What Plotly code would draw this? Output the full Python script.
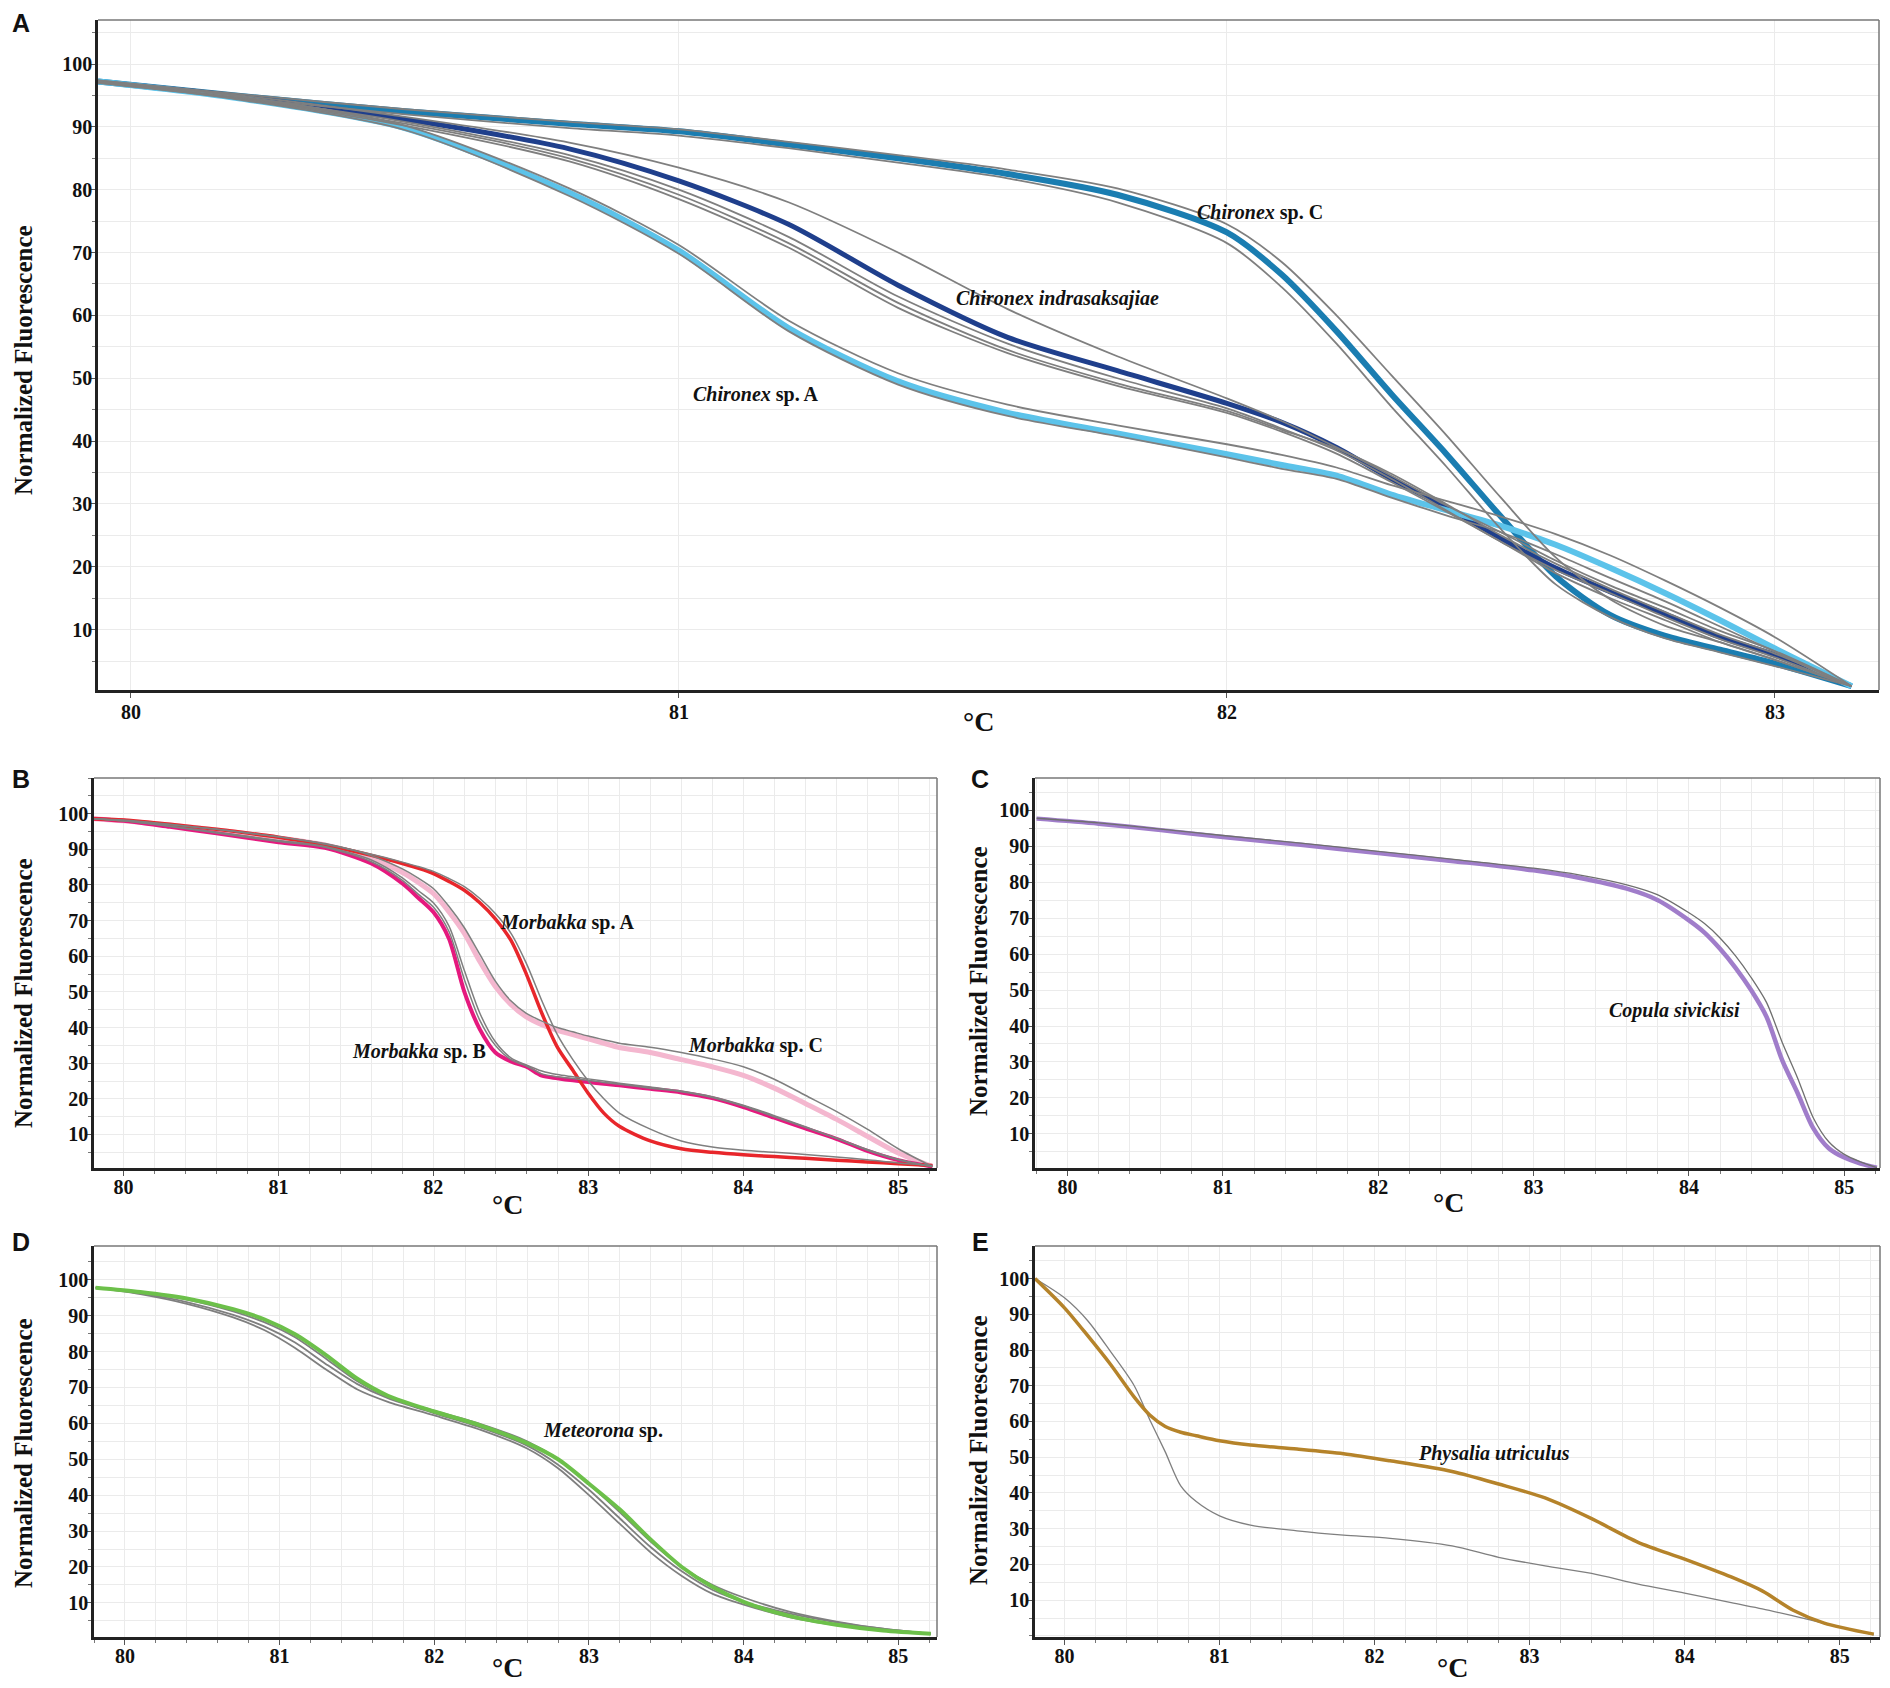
import plotly.graph_objects as go

# ---- panel A : Chironex ----
a_temp = [79.94, 80.2, 80.5, 80.8, 81.0, 81.2, 81.4, 81.6, 81.8, 82.0, 82.1,
          82.2, 82.3, 82.4, 82.5, 82.6, 82.7, 82.8, 82.9, 83.0, 83.14]
a_sp_c = [97.2, 94.9, 92.5, 90.5, 89.3, 87.2, 85.0, 82.5, 79.2, 73.2, 66.5,
          57.5, 47.5, 38.0, 28.0, 18.5, 12.3, 9.0, 6.8, 4.6, 1.0]
a_sp_c_rep1 = [97.4, 95.2, 92.8, 90.8, 89.6, 87.6, 85.5, 83.2, 80.2, 74.5, 68.5,
               60.0, 50.5, 41.0, 31.0, 21.5, 14.8, 10.6, 8.0, 5.2, 1.0]
a_sp_c_rep2 = [97.0, 94.6, 92.0, 89.8, 88.6, 86.6, 84.3, 81.8, 78.0, 71.5, 64.5,
               55.5, 45.5, 36.0, 26.0, 17.2, 12.0, 8.6, 6.4, 4.2, 1.0]
a_indra = [97.2, 94.8, 91.2, 86.5, 81.4, 74.5, 64.8, 56.5, 51.2, 46.0, 43.0,
           39.0, 34.0, 29.5, 24.5, 19.8, 16.0, 12.5, 8.8, 6.0, 1.0]
a_indra_rep1 = [97.2, 95.0, 91.6, 87.5, 83.5, 78.0, 70.0, 61.0, 53.5, 46.8, 43.2,
                39.0, 34.5, 29.8, 25.5, 21.0, 17.0, 13.5, 9.8, 6.6, 1.0]
a_indra_rep2 = [97.2, 94.6, 90.8, 85.5, 80.0, 72.5, 63.0, 55.5, 50.0, 45.2, 42.0,
                38.5, 34.0, 29.0, 24.0, 19.5, 15.8, 12.0, 8.5, 5.6, 1.0]
a_indra_rep3 = [97.2, 94.5, 90.5, 85.0, 79.2, 71.5, 62.0, 54.5, 49.2, 44.8, 41.8,
                38.8, 34.8, 30.0, 25.0, 20.5, 16.5, 12.8, 9.2, 6.2, 1.0]
a_indra_rep4 = [97.0, 94.4, 90.2, 84.5, 78.5, 70.8, 61.2, 54.0, 48.8, 44.5, 41.5,
                38.0, 33.5, 28.8, 24.0, 19.0, 15.0, 11.5, 8.0, 5.2, 1.0]
a_sp_a = [97.2, 94.5, 89.8, 79.5, 70.3, 58.0, 49.5, 44.5, 41.2, 37.9, 36.2,
          34.5, 31.5, 29.0, 26.5, 23.5, 19.8, 15.8, 11.5, 7.0, 1.0]
a_sp_a_rep1 = [97.4, 94.8, 90.2, 80.2, 71.2, 59.2, 50.8, 45.8, 42.5, 39.5, 37.8,
               35.8, 33.0, 30.5, 28.0, 25.2, 21.8, 17.8, 13.5, 8.8, 1.0]
a_sp_a_rep2 = [97.2, 94.3, 89.5, 79.0, 69.8, 57.5, 49.0, 44.0, 40.8, 37.4, 35.6,
               34.0, 31.0, 28.2, 25.5, 22.0, 18.2, 14.5, 10.5, 6.5, 1.0]

# ---- panel B : Morbakka ----
b_temp = [79.81, 80.0, 80.3, 80.6, 81.0, 81.3, 81.6, 81.8, 81.9, 82.0, 82.1,
          82.2, 82.3, 82.4, 82.5, 82.6, 82.7, 82.8, 82.9, 83.0, 83.1, 83.2,
          83.4, 83.6, 83.8, 84.0, 84.2, 84.4, 84.6, 84.8, 85.0, 85.22]
b_sp_a = [98.6, 98.2, 97.0, 95.6, 93.4, 91.2, 88.3, 86.0, 84.7, 83.2, 81.0,
          78.5, 75.0, 70.5, 64.5, 55.0, 44.0, 34.5, 28.0, 21.5, 16.0, 12.3,
          8.2, 6.0, 5.0, 4.3, 3.8, 3.3, 2.8, 2.3, 1.8, 1.3]
b_sp_a_rep = [98.6, 98.2, 97.0, 95.6, 93.5, 91.4, 88.6, 86.4, 85.2, 83.8, 81.8,
              79.5, 76.2, 72.0, 66.5, 58.0, 47.5, 38.0, 31.0, 25.0, 20.0, 16.0,
              11.5, 8.2, 6.5, 5.6, 5.0, 4.4, 3.7, 2.9, 2.0, 1.3]
b_sp_b = [98.6, 98.0, 96.3, 94.5, 92.0, 90.4, 86.0, 80.4, 76.5, 72.4, 65.0,
          50.0, 39.5, 33.0, 30.5, 29.0, 26.5, 25.8, 25.2, 24.7, 24.2, 23.8,
          22.8, 21.8, 20.2, 17.7, 14.7, 11.7, 8.8, 5.4, 2.8, 1.0]
b_sp_b_rep1 = [98.6, 98.0, 96.5, 94.8, 92.5, 90.8, 87.0, 82.0, 78.5, 75.0, 68.5,
               56.0, 44.0, 36.0, 31.5, 29.5, 27.8, 26.8, 26.2, 25.6, 25.0, 24.4,
               23.3, 22.2, 20.6, 18.2, 15.3, 12.2, 9.0, 5.8, 3.0, 1.0]
b_sp_b_rep2 = [98.6, 98.0, 96.4, 94.6, 92.2, 90.6, 86.5, 81.3, 77.5, 73.8, 67.0,
               53.5, 42.0, 35.0, 31.0, 29.2, 27.0, 26.2, 25.7, 25.2, 24.6, 24.1,
               23.0, 22.0, 20.4, 18.0, 15.0, 12.0, 8.9, 5.6, 2.9, 1.0]
b_sp_c = [98.6, 98.0, 96.8, 95.4, 93.2, 91.2, 87.5, 83.5, 80.8, 77.6, 72.5,
          66.4, 58.5, 51.5, 46.5, 43.0, 40.8, 39.2, 38.0, 36.8, 35.6, 34.4,
          33.0, 31.0, 29.0, 26.6, 23.0, 18.7, 14.3, 9.5, 4.8, 1.0]
b_sp_c_rep = [98.6, 98.0, 96.9, 95.6, 93.5, 91.6, 88.2, 84.5, 82.0, 79.0, 74.0,
              68.0, 60.5, 53.0, 47.5, 44.0, 41.8, 40.0, 38.8, 37.6, 36.6, 35.6,
              34.5, 33.0, 31.2, 29.0, 25.5, 21.0, 16.5, 11.5, 6.0, 1.0]

# ---- panel C : Copula ----
c_temp = [79.8, 80.2, 80.6, 81.0, 81.5, 82.0, 82.5, 83.0, 83.3, 83.6, 83.8, 84.0,
          84.1, 84.2, 84.3, 84.4, 84.5, 84.6, 84.7, 84.8, 84.9, 85.0, 85.1, 85.21]
c_copula = [97.7, 96.3, 94.5, 92.6, 90.4, 88.1, 85.8, 83.3, 81.2, 78.2, 75.0, 69.4,
            66.0, 61.5, 56.2, 50.0, 42.5, 30.5, 21.3, 11.6, 6.0, 3.4, 1.8, 0.6]
c_copula_rep = [97.8, 96.5, 94.8, 93.0, 90.9, 88.6, 86.3, 83.9, 82.0, 79.3, 76.5, 71.5,
                68.5, 64.5, 59.5, 53.5, 46.5, 35.5, 25.5, 14.5, 7.8, 4.3, 2.3, 0.6]

# ---- panel D : Meteorona ----
d_temp = [79.81, 80.1, 80.4, 80.7, 80.9, 81.1, 81.3, 81.5, 81.7, 82.0, 82.3, 82.6,
          82.8, 83.0, 83.2, 83.4, 83.6, 83.8, 84.0, 84.3, 84.6, 84.9, 85.21]
d_meteorona = [97.8, 96.6, 94.8, 91.8, 89.0, 84.8, 79.0, 72.5, 67.7, 63.3, 59.4, 54.5,
               50.0, 43.2, 36.0, 27.6, 20.0, 14.4, 10.3, 6.3, 3.9, 2.3, 1.4]
d_rep1 = [97.8, 96.0, 93.3, 89.5, 86.0, 81.0, 75.0, 69.5, 66.0, 62.2, 58.2, 53.0,
          47.5, 40.0, 32.0, 24.0, 17.5, 12.5, 9.5, 6.0, 3.8, 2.3, 1.4]
d_rep2 = [97.8, 96.2, 93.8, 90.2, 87.0, 82.5, 76.5, 71.0, 67.0, 62.8, 58.8, 53.8,
          48.5, 41.5, 33.5, 25.5, 18.8, 13.6, 10.3, 7.0, 4.6, 2.8, 1.4]
d_rep3 = [97.8, 96.5, 94.5, 91.2, 88.2, 84.0, 78.0, 71.8, 67.4, 63.5, 59.8, 55.0,
          50.0, 43.0, 35.2, 27.0, 20.0, 15.0, 11.5, 7.5, 4.8, 2.8, 1.4]

# ---- panel E : Physalia ----
e_temp = [79.81, 80.0, 80.15, 80.3, 80.45, 80.55, 80.65, 80.75, 80.85, 81.0, 81.2,
          81.5, 81.8, 82.1, 82.5, 82.8, 83.1, 83.4, 83.7, 84.0, 84.3, 84.5, 84.7,
          84.9, 85.22]
e_physalia = [100, 91.8, 84.0, 75.8, 66.8, 61.8, 58.6, 57.0, 56.0, 54.6, 53.4,
              52.3, 51.0, 49.0, 46.0, 42.5, 38.6, 32.8, 26.2, 21.5, 16.5, 12.6, 7.2,
              3.6, 0.5]
e_rep = [100, 94.6, 88.2, 79.4, 70.0, 60.5, 51.5, 42.0, 37.6, 33.6, 31.0,
         29.4, 28.2, 27.3, 25.2, 22.0, 19.6, 17.5, 14.5, 12.0, 9.3, 7.6, 5.6,
         3.5, 0.3]

y_ticks = [10, 20, 30, 40, 50, 60, 70, 80, 90, 100]

GRAY = "#7f7f7f"
SERIF = "Liberation Serif"
GRID = "#ebebeb"

# the page body keeps its default 8px margin, so the figure sits 8px in
OFF = 8
W, H = 1890 - OFF, 1688 - OFF


def px(x):
    return (x - OFF) / W


def py(y):
    return 1 - (y - OFF) / H


fig = go.Figure()


def add_curve(ax, x, y, color, width):
    fig.add_trace(go.Scatter(x=x, y=y, mode="lines", xaxis="x" + ax, yaxis="y" + ax,
                             line=dict(color=color, width=width, shape="spline", smoothing=0.8),
                             showlegend=False, hoverinfo="skip"))


# panel A
add_curve("", a_temp, a_sp_c, "#1a7db1", 6)
add_curve("", a_temp, a_indra, "#1f3f8c", 5)
add_curve("", a_temp, a_sp_a, "#5cc3ea", 6)
for rep in [a_sp_c_rep1, a_sp_c_rep2, a_indra_rep1, a_indra_rep2, a_indra_rep3,
            a_indra_rep4, a_sp_a_rep1, a_sp_a_rep2]:
    add_curve("", a_temp, rep, GRAY, 1.8)

# panel B
add_curve("2", b_temp, b_sp_c, "#f4b7cf", 5)
add_curve("2", b_temp, b_sp_b, "#e5197e", 4)
add_curve("2", b_temp, b_sp_a, "#e8262b", 3.5)
for rep in [b_sp_a_rep, b_sp_b_rep1, b_sp_b_rep2, b_sp_c_rep]:
    add_curve("2", b_temp, rep, GRAY, 1.5)

# panel C
add_curve("3", c_temp, c_copula, "#a07dca", 4.5)
add_curve("3", c_temp, c_copula_rep, "#6f6f6f", 1.3)

# panel D
for rep in [d_rep1, d_rep2, d_rep3]:
    add_curve("4", d_temp, rep, GRAY, 1.8)
add_curve("4", d_temp, d_meteorona, "#6cc04a", 4)

# panel E
add_curve("5", e_temp, e_rep, GRAY, 1.3)
add_curve("5", e_temp, e_physalia, "#b5832a", 3.5)


def xaxis_style(domain, rng, minor_step, anchor, standoff):
    d = dict(domain=domain, range=rng, anchor=anchor, tickmode="linear", tick0=80, dtick=1,
             showgrid=True, gridcolor=GRID, gridwidth=1, zeroline=False,
             showline=True, linecolor="#222222", linewidth=3,
             ticks="outside", ticklen=5, tickcolor="#555555", ticklabelstandoff=standoff,
             tickfont=dict(family=SERIF, size=20, color="#111111", weight="bold"))
    if minor_step:
        d["minor"] = dict(tickmode="linear", tick0=80, dtick=minor_step, ticks="outside",
                          ticklen=3, tickcolor="#777777", showgrid=True, gridcolor=GRID)
    return d


def yaxis_style(domain, rng, anchor):
    return dict(domain=domain, range=rng, anchor=anchor, tickmode="array", tickvals=y_ticks,
                showgrid=True, gridcolor=GRID, gridwidth=1, zeroline=False,
                showline=True, linecolor="#222222", linewidth=2.5,
                ticks="outside", ticklen=4, tickcolor="#555555", ticklabelstandoff=-5,
                tickfont=dict(family=SERIF, size=20, color="#111111", weight="bold"),
                minor=dict(tickmode="linear", tick0=0, dtick=5, ticks="outside", ticklen=3,
                           tickcolor="#777777", showgrid=True, gridcolor=GRID))


left_col = [px(94), px(937)]
right_col = [px(1035), px(1880)]
mid_row = [py(1168), py(778)]
low_row = [py(1637), py(1246)]

fig.update_layout(
    width=W, height=H, autosize=False,
    margin=dict(l=0, r=0, t=0, b=0),
    plot_bgcolor="white", paper_bgcolor="white",
    xaxis=xaxis_style([px(98), px(1879)], [79.94, 83.19], None, "y", -3),
    yaxis=yaxis_style([py(690), py(20)], [0.4, 107], "x"),
    xaxis2=xaxis_style(left_col, [79.81, 85.25], 0.2, "y2", -6),
    yaxis2=yaxis_style(mid_row, [0.6, 110], "x2"),
    xaxis3=xaxis_style(right_col, [79.79, 85.23], 0.2, "y3", -6),
    yaxis3=yaxis_style(mid_row, [0.5, 109], "x3"),
    xaxis4=xaxis_style(left_col, [79.8, 85.25], 0.2, "y4", -6),
    yaxis4=yaxis_style(low_row, [0.5, 109.4], "x4"),
    xaxis5=xaxis_style(right_col, [79.81, 85.26], 0.2, "y5", -6),
    yaxis5=yaxis_style(low_row, [-0.3, 109.1], "x5"),
)

# gray top and right frame edges
for ax in ["", "2", "3", "4", "5"]:
    xr, yr = "x" + ax + " domain", "y" + ax + " domain"
    fig.add_shape(type="line", xref=xr, yref=yr, x0=0, x1=1, y0=1, y1=1,
                  line=dict(color="#777777", width=1.5))
    fig.add_shape(type="line", xref=xr, yref=yr, x0=1, x1=1, y0=0, y1=1,
                  line=dict(color="#777777", width=1.5))

# curve labels
labels = [
    ("x", "y", 82.06, 76.3, "<i>Chironex</i> sp. C"),
    ("x", "y", 81.69, 62.7, "<i>Chironex indrasaksajiae</i>"),
    ("x", "y", 81.14, 47.4, "<i>Chironex</i> sp. A"),
    ("x2", "y2", 82.86, 69.6, "<i>Morbakka</i> sp. A"),
    ("x2", "y2", 81.91, 33.4, "<i>Morbakka</i> sp. B"),
    ("x2", "y2", 84.08, 35.0, "<i>Morbakka</i> sp. C"),
    ("x3", "y3", 83.91, 44.4, "<i>Copula sivickisi</i>"),
    ("x4", "y4", 83.09, 58.0, "<i>Meteorona</i> sp."),
    ("x5", "y5", 82.77, 51.0, "<i>Physalia utriculus</i>"),
]
for xr, yr, x, y, text in labels:
    fig.add_annotation(xref=xr, yref=yr, x=x, y=y, text="<b>" + text + "</b>", showarrow=False,
                       xanchor="center", yanchor="middle",
                       font=dict(family=SERIF, size=20, color="#111111"))

# axis titles and panel letters
y_titles = [(23, 360), (23, 993), (978, 981), (23, 1453), (978, 1450)]
for x0, y0 in y_titles:
    fig.add_annotation(xref="paper", yref="paper", x=px(x0), y=py(y0),
                       xanchor="center", yanchor="middle",
                       text="<b>Normalized Fluorescence</b>", textangle=-90, showarrow=False,
                       font=dict(family=SERIF, size=25, color="#111111"))

x_titles = [(978, 721), (507, 1204), (1448, 1202), (507, 1667), (1452, 1667)]
for x0, y0 in x_titles:
    fig.add_annotation(xref="paper", yref="paper", x=px(x0), y=py(y0),
                       xanchor="center", yanchor="middle",
                       text="<b>°C</b>", showarrow=False,
                       font=dict(family=SERIF, size=28, color="#111111"))

letters = [("A", 21, 23), ("B", 21, 779), ("C", 980, 779), ("D", 21, 1242), ("E", 980, 1242)]
for name, x0, y0 in letters:
    fig.add_annotation(xref="paper", yref="paper", x=px(x0), y=py(y0),
                       xanchor="center", yanchor="middle",
                       text="<b>" + name + "</b>", showarrow=False,
                       font=dict(family="Liberation Sans", size=25, color="#111111"))

fig.write_html("out.html")
